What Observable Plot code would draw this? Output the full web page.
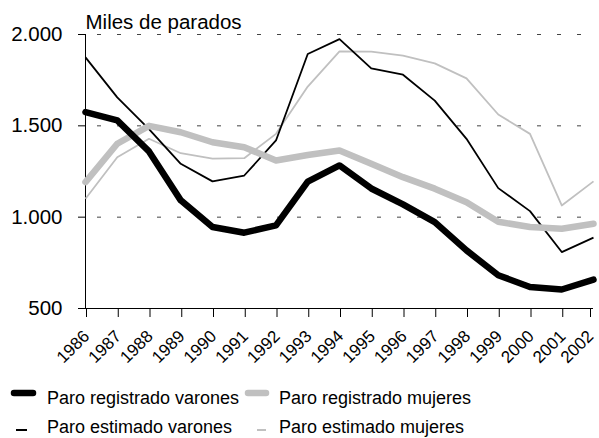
<!DOCTYPE html>
<html><head><meta charset="utf-8">
<script src="https://cdn.jsdelivr.net/npm/d3@7"></script>
<script src="https://cdn.jsdelivr.net/npm/@observablehq/plot@0.6"></script>
<style>
body{margin:0;background:#fff;font-family:"Liberation Sans",Arial,sans-serif;}
#wrap{position:relative;width:599px;height:438px;overflow:hidden;}
.leg{position:absolute;font-size:18px;color:#000;white-space:nowrap;line-height:1;}
</style></head><body>
<div id="wrap"></div>
<script>
const years = [1986,1987,1988,1989,1990,1991,1992,1993,1994,1995,1996,1997,1998,1999,2000,2001,2002];
const registradoVarones = [1575,1530,1360,1092,946,915,955,1195,1283,1157,1070,973,818,682,618,604,658];
const registradoMujeres = [1192,1402,1500,1465,1410,1383,1310,1340,1365,1292,1219,1156,1082,975,946,937,964];
const estimadoVarones = [1875,1656,1482,1292,1196,1228,1420,1893,1975,1815,1780,1638,1429,1159,1033,809,888];
const estimadoMujeres = [1101,1328,1429,1350,1320,1323,1456,1715,1908,1906,1884,1842,1760,1562,1456,1064,1196];
const yTicks = [500,1000,1500,2000];
const gridValues = [1000,1500,2000];
const seriesNames = ["Paro registrado varones","Paro registrado mujeres","Paro estimado varones","Paro estimado mujeres"];
const yTitle = "Miles de parados";

const esFmt = d3.formatLocale({decimal:",",thousands:".",grouping:[3],currency:["","€"]}).format(",");
const styles = [
  {stroke:"#000000", w:6.5},
  {stroke:"#c0c0c0", w:6.5},
  {stroke:"#000000", w:1.8},
  {stroke:"#c0c0c0", w:1.8}
];
const rows = [];
const seriesData = [registradoVarones, registradoMujeres, estimadoVarones, estimadoMujeres];
seriesNames.forEach((n,i)=>years.forEach((y,j)=>rows.push({series:n, year:y, value:seriesData[i][j]})));

const lineMark = i => Plot.line(rows.filter(r=>r.series===seriesNames[i]), {
  x:"year", y:"value", stroke:styles[i].stroke, strokeWidth:styles[i].w,
  strokeLinejoin:"round", strokeLinecap: styles[i].w>3 ? "round" : "butt"
});
const xAxisOpts = {tickSize:9, tickPadding:16, tickRotate:-45, tickFormat:d=>String(d), fontSize:17, label:null, stroke:"#000"};

const chart = Plot.plot({
  width:599, height:375,
  marginTop:34, marginBottom:67, marginLeft:85, marginRight:6,
  style:{fontFamily:"'Liberation Sans', Arial, sans-serif", fontSize:"20px", color:"#000", background:"#fff"},
  x:{type:"linear", domain:[1986,2002]},
  y:{type:"linear", domain:[500,2000]},
  marks:[
    Plot.ruleY(gridValues, {stroke:"#444", strokeWidth:1, strokeDasharray:"4,16", strokeDashoffset:8}),
    Plot.axisY(yTicks, {tickSize:7, tickPadding:16, tickFormat:esFmt, fontSize:20.5, label:null, stroke:"#000"}),
    Plot.axisX(years.slice(0,-1), {...xAxisOpts, dx:1}),
    Plot.axisX(years.slice(-1), {...xAxisOpts, dx:-3}),
    Plot.ruleX([1986], {stroke:"#000", strokeWidth:1}),
    Plot.ruleY([500], {stroke:"#000", strokeWidth:1}),
    lineMark(3), lineMark(2), lineMark(1), lineMark(0),
    Plot.text([yTitle], {frameAnchor:"top-left", textAnchor:"start", lineAnchor:"bottom", dx:0, dy:-6, fontSize:20.5, fill:"#000"})
  ]
});
const wrap = document.getElementById("wrap");
wrap.appendChild(chart);

// legend
const legPos = [
  {x:47, y:389, sw:[14,33,393], i:0},
  {x:279, y:389, sw:[248,266,393], i:1},
  {x:47, y:418, sw:[16,27,430], i:2},
  {x:279, y:418, sw:[257,266,430], i:3}
];
const svgNS="http://www.w3.org/2000/svg";
const lsvg=document.createElementNS(svgNS,"svg");
lsvg.setAttribute("width","599");lsvg.setAttribute("height","438");
lsvg.style.position="absolute";lsvg.style.left="0";lsvg.style.top="0";
wrap.appendChild(lsvg);
legPos.forEach(p=>{
  const s = styles[p.i];
  const l=document.createElementNS(svgNS,"line");
  l.setAttribute("x1",p.sw[0]);l.setAttribute("x2",p.sw[1]);
  l.setAttribute("y1",p.sw[2]);l.setAttribute("y2",p.sw[2]);
  l.setAttribute("stroke",s.stroke);l.setAttribute("stroke-width",s.w>3?6.5:2);
  l.setAttribute("stroke-linecap",s.w>3?"round":"butt");
  lsvg.appendChild(l);
  const d=document.createElement("div");
  d.className="leg";d.style.left=p.x+"px";d.style.top=p.y+"px";
  d.textContent=seriesNames[p.i];
  wrap.appendChild(d);
});
</script>
</body></html>
